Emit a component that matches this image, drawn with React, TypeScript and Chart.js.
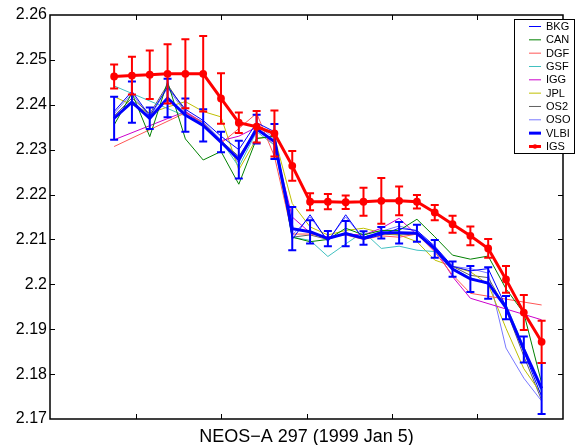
import React, { useEffect, useRef } from "react";
import { Chart, registerables } from "chart.js";

Chart.register(...registerables);

const FONT = '"Liberation Sans", Arial, Helvetica, sans-serif';

// epochs (hours into the session)
const hours = [0, 1, 2, 3, 4, 5, 6, 7, 8, 9, 10, 11, 12, 13, 14, 15, 16, 17, 18, 19, 20, 21, 22, 23, 24];

// x axis layout (hours)
const xMin = -3.6;
const xMax = 25.2;
const xStep = 4.8;

// y axis
const yMin = 2.17;
const yMax = 2.26;
const yStep = 0.01;

const xLabel = "NEOS\u2212A 297 (1999 Jan 5)";

// analysis centre series
const bkg = [2.2385, 2.2430, 2.2375, 2.2440, 2.2390, 2.2365, 2.2330, 2.2300, 2.2360, 2.2340, 2.2100, 2.2155, 2.2095, 2.2155, 2.2100, 2.2110, 2.2125, 2.2120, 2.2085, 2.2040, 2.2030, 2.2035, 2.1950, 2.1850, 2.1750];
const can = [2.2355, 2.2426, 2.2329, 2.2451, 2.2324, 2.2277, 2.2296, 2.2223, 2.2325, 2.2330, 2.2105, 2.2095, 2.2100, 2.2125, 2.2110, 2.2120, 2.2120, 2.2145, 2.2106, 2.2065, 2.2056, 2.2063, 2.1990, 2.1936, 2.1780];
const dgf = [2.2307, null, null, null, 2.2382, 2.2360, 2.2314, 2.2347, 2.2381, 2.2285, 2.2112, 2.2112, 2.2105, 2.2110, 2.2100, 2.2108, 2.2105, 2.2112, 2.2072, 2.2021, 2.1980, null, null, null, 2.1954];
const gsf = [2.2442, null, null, null, 2.2375, 2.2360, 2.2320, 2.2262, 2.2340, 2.2310, 2.2105, 2.2098, 2.2062, 2.2090, 2.2117, 2.2080, 2.2085, 2.2076, 2.2073, 2.2035, 2.2015, 2.2000, 2.1955, 2.1860, 2.1760];
const igg = [2.2322, null, null, null, 2.2385, 2.2360, 2.2320, 2.2330, 2.2350, 2.2310, 2.2150, 2.2115, 2.2105, 2.2112, 2.2110, 2.2125, 2.2147, 2.2110, 2.2080, 2.2017, 2.1969, null, null, null, 2.1921];
const jpl = [2.2418, 2.2400, 2.2381, 2.2395, 2.2407, 2.2385, 2.2373, 2.2255, 2.2325, 2.2329, 2.2180, 2.2128, 2.2110, 2.2120, 2.2125, 2.2115, 2.2110, 2.2095, 2.2054, 2.2040, 2.2028, 2.2000, 2.1902, 2.1812, 2.1755];
const os2 = [2.2375, 2.2415, 2.2380, 2.2445, 2.2385, 2.2355, 2.2320, 2.2285, 2.2345, 2.2320, 2.2105, 2.2110, 2.2100, 2.2115, 2.2105, 2.2112, 2.2110, 2.2112, 2.2078, 2.2040, 2.2020, 2.2015, 2.1945, 2.1840, 2.1742];
const oso = [2.2380, 2.2425, 2.2372, 2.2438, 2.2382, 2.2362, 2.2322, 2.2270, 2.2355, 2.2325, 2.2110, 2.2150, 2.2098, 2.2150, 2.2102, 2.2118, 2.2130, 2.2118, 2.2082, 2.2040, 2.2035, 2.2025, 2.1858, 2.1791, 2.1740];

// VLBI with formal errors
const vlbi = [2.2370, 2.2406, 2.2370, 2.2415, 2.2377, 2.2354, 2.2317, 2.2278, 2.2346, 2.2318, 2.2124, 2.2117, 2.2102, 2.2113, 2.2103, 2.2115, 2.2115, 2.2114, 2.2079, 2.2034, 2.2012, 2.2003, 2.1948, 2.1855, 2.1768];
const vlbiErr = [0.0048, 0.0046, 0.0024, 0.0043, 0.0037, 0.0036, 0.0023, 0.0042, 0.0032, 0.0039, 0.0048, 0.0026, 0.0017, 0.0028, 0.0015, 0.0013, 0.0024, 0.0019, 0.0020, 0.0017, 0.0029, 0.0035, 0.0026, 0.0029, 0.0057];

// IGS with formal errors
const igs = [2.2463, 2.2465, 2.2467, 2.2469, 2.2469, 2.2469, 2.2414, 2.2360, 2.2351, 2.2336, 2.2264, 2.2184, 2.2184, 2.2183, 2.2184, 2.2186, 2.2186, 2.2184, 2.2160, 2.2134, 2.2108, 2.2080, 2.2011, 2.1937, 2.1872];
const igsErr = [0.0027, 0.0042, 0.0054, 0.0066, 0.0077, 0.0084, 0.0056, 0.0023, 0.0035, 0.0051, 0.0033, 0.0019, 0.0017, 0.0015, 0.0031, 0.0051, 0.0032, 0.0015, 0.0017, 0.0019, 0.0021, 0.0021, 0.0030, 0.0039, 0.0047];

const labels = ["BKG", "CAN", "DGF", "GSF", "IGG", "JPL", "OS2", "OSO", "VLBI", "IGS"];
const colors = ["#0000ff", "#008000", "#ff5555", "#40c0c0", "#cc00cc", "#bfbf00", "#606060", "#7878ff", "#0000ff", "#ff0000"];
const thinSeries = [bkg, can, dgf, gsf, igg, jpl, os2, oso];

const toPts = (vals: (number | null)[]) => hours.map((h, i) => ({ x: h, y: vals[i] }));

const errorBarPlugin = {
  id: "errorBars",
  afterDatasetDraw(chart: any, args: any) {
    const ds = chart.data.datasets[args.index];
    if (!ds.errors) return;
    const { ctx } = chart;
    const xs = chart.scales.x;
    const ys = chart.scales.y;
    ctx.save();
    ctx.strokeStyle = ds.borderColor;
    ctx.lineWidth = 2;
    ds.data.forEach((p: any, i: number) => {
      const e = ds.errors[i];
      const px = xs.getPixelForValue(p.x);
      const top = ys.getPixelForValue(p.y + e);
      const bot = ys.getPixelForValue(p.y - e);
      ctx.beginPath();
      ctx.moveTo(px, top);
      ctx.lineTo(px, bot);
      ctx.moveTo(px - 4, top);
      ctx.lineTo(px + 4, top);
      ctx.moveTo(px - 4, bot);
      ctx.lineTo(px + 4, bot);
      ctx.stroke();
    });
    ctx.restore();
  },
};

const framePlugin = {
  id: "frame",
  afterDraw(chart: any) {
    const { ctx, chartArea } = chart;
    const { left, right, top, bottom } = chartArea;
    const xs = chart.scales.x;
    const ys = chart.scales.y;
    ctx.save();
    // frame
    ctx.strokeStyle = "#000";
    ctx.lineWidth = 1.5;
    ctx.strokeRect(left, top, right - left, bottom - top);
    // inward ticks
    ctx.lineWidth = 1;
    const tl = 5;
    ctx.beginPath();
    xs.ticks.forEach((t: any) => {
      if (t.value <= xMin + 1e-6 || t.value >= xMax - 1e-6) return;
      const px = Math.round(xs.getPixelForValue(t.value)) + 0.5;
      ctx.moveTo(px, bottom);
      ctx.lineTo(px, bottom - tl);
      ctx.moveTo(px, top);
      ctx.lineTo(px, top + tl);
    });
    ys.ticks.forEach((t: any) => {
      if (t.value <= yMin + 1e-6 || t.value >= yMax - 1e-6) return;
      const py = Math.round(ys.getPixelForValue(t.value)) + 0.5;
      ctx.moveTo(left, py);
      ctx.lineTo(left + tl, py);
      ctx.moveTo(right, py);
      ctx.lineTo(right - tl, py);
    });
    ctx.stroke();

    // x label
    ctx.fillStyle = "#000";
    ctx.font = `18px ${FONT}`;
    ctx.textAlign = "center";
    ctx.textBaseline = "alphabetic";
    ctx.fillText(xLabel, (left + right) / 2, 441.5);

    // legend
    const bx = 514, by = 19, bw = 61, bh = 135;
    ctx.fillStyle = "#fff";
    ctx.fillRect(bx, by, bw, bh);
    ctx.strokeStyle = "#000";
    ctx.lineWidth = 1;
    ctx.strokeRect(bx + 0.5, by + 0.5, bw - 1, bh - 1);
    ctx.font = `11px ${FONT}`;
    ctx.textAlign = "left";
    ctx.textBaseline = "middle";
    chart.data.datasets.forEach((ds: any) => {
      const k = labels.indexOf(ds.label);
      const y = 26.5 + k * 13.33;
      ctx.strokeStyle = ds.borderColor;
      ctx.lineWidth = ds.borderWidth;
      ctx.beginPath();
      ctx.moveTo(529, y);
      ctx.lineTo(541, y);
      ctx.stroke();
      if (ds.pointRadius > 0) {
        ctx.fillStyle = ds.borderColor;
        ctx.beginPath();
        ctx.arc(535, y, 2.2, 0, Math.PI * 2);
        ctx.fill();
      }
      ctx.fillStyle = "#000";
      ctx.fillText(ds.label, 546, y + 0.5);
    });
    ctx.restore();
  },
};

export default function App() {
  const canvasRef = useRef<HTMLCanvasElement | null>(null);

  useEffect(() => {
    document.body.style.margin = "0";
    const canvas = canvasRef.current;
    if (!canvas) return;

    const datasets: any[] = [];
    thinSeries.forEach((vals, i) => {
      datasets.push({
        label: labels[i],
        data: toPts(vals),
        borderColor: colors[i],
        backgroundColor: colors[i],
        borderWidth: 1,
        pointRadius: 0,
        pointHoverRadius: 0,
        spanGaps: true,
        tension: 0,
        fill: false,
        order: 3,
      });
    });
    datasets.push({
      label: labels[8],
      data: toPts(vlbi),
      errors: vlbiErr,
      borderColor: colors[8],
      backgroundColor: colors[8],
      borderWidth: 3,
      pointRadius: 0,
      pointHoverRadius: 0,
      tension: 0,
      fill: false,
      order: 2,
    });
    datasets.push({
      label: labels[9],
      data: toPts(igs),
      errors: igsErr,
      borderColor: colors[9],
      backgroundColor: colors[9],
      pointBackgroundColor: colors[9],
      pointBorderColor: colors[9],
      borderWidth: 3,
      pointRadius: 2.4,
      pointHoverRadius: 2.4,
      tension: 0,
      fill: false,
      order: 1,
    });

    const chart = new Chart(canvas, {
      type: "line",
      data: { datasets },
      options: {
        responsive: false,
        animation: false,
        events: [],
        layout: { padding: { top: 15, right: 23, left: 0, bottom: 0 } },
        plugins: {
          legend: { display: false },
          tooltip: { enabled: false },
          title: { display: false },
        },
        scales: {
          x: {
            type: "linear",
            min: xMin,
            max: xMax,
            ticks: { display: false, stepSize: xStep },
            grid: { display: false, drawTicks: false },
            border: { display: false },
            afterFit: (s: any) => {
              s.height = 26;
            },
          },
          y: {
            type: "linear",
            min: yMin,
            max: yMax,
            ticks: {
              stepSize: yStep,
              autoSkip: false,
              padding: 3,
              color: "#000",
              font: { family: FONT, size: 16 },
              callback: (v: any) => String(Math.round(Number(v) * 100) / 100),
            },
            grid: { display: false, drawTicks: false },
            border: { display: false },
            afterFit: (s: any) => {
              s.width = 50;
            },
          },
        },
      } as any,
      plugins: [errorBarPlugin, framePlugin],
    });

    return () => chart.destroy();
  }, []);

  return (
    <div style={{ position: "fixed", left: 0, top: 0, width: 586, height: 445, background: "#fff" }}>
      <canvas ref={canvasRef} width={586} height={445} />
    </div>
  );
}
